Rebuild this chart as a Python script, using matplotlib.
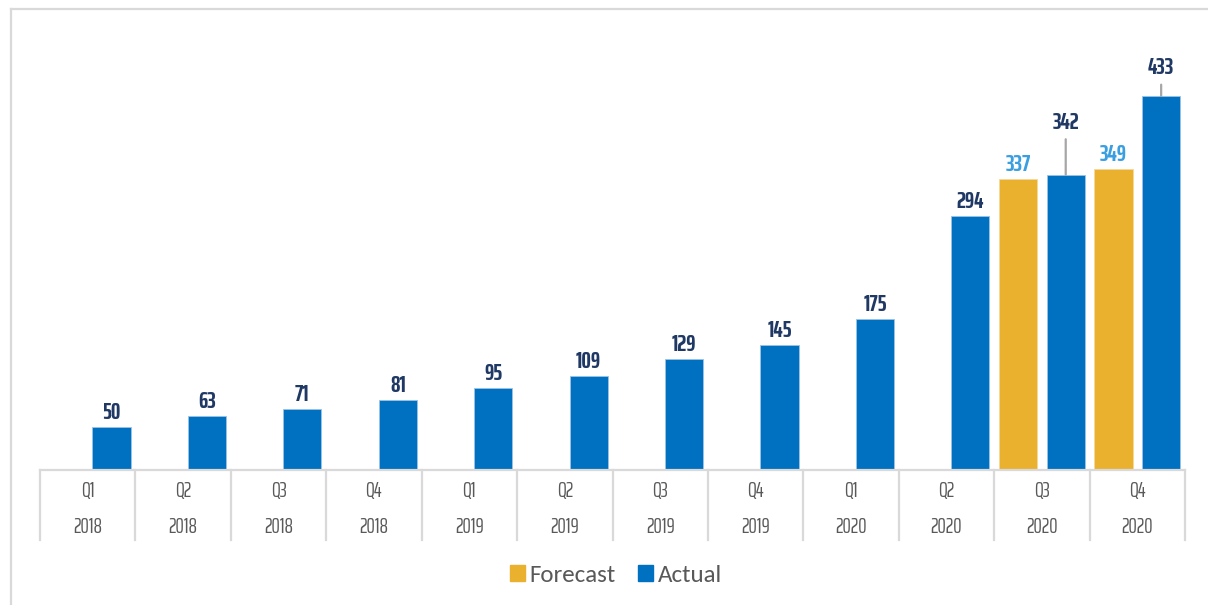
import matplotlib
matplotlib.use("Agg")
import matplotlib.pyplot as plt
from matplotlib.lines import Line2D
from matplotlib.patches import Patch
import numpy as np

quarters = ["Q1", "Q2", "Q3", "Q4", "Q1", "Q2", "Q3", "Q4", "Q1", "Q2", "Q3", "Q4"]
years = ["2018", "2018", "2018", "2018", "2019", "2019", "2019", "2019", "2020", "2020", "2020", "2020"]
actual = [50, 63, 71, 81, 95, 109, 129, 145, 175, 294, 342, 433]
forecast = [None, None, None, None, None, None, None, None, None, None, 337, 349]

BLUE = "#0070C0"
GOLD = "#EAB12E"
NAVY = "#1F3864"
LBLUE = "#3A9FE0"
GRID = "#D9D9D9"
TXT = "#595959"

COND = ["Saira Extra Condensed", "Saira ExtraCondensed", "Barlow Condensed", "Roboto Condensed",
        "IBM Plex Sans Condensed", "DejaVu Sans"]
CAL = ["Carlito", "Open Sans", "DejaVu Sans"]

fig = plt.figure(figsize=(12.08, 6.05), dpi=100)
W, H = 1208, 605
left, right, bottom, top = 40, 1185, 470, 40
ax = fig.add_axes([left / W, 1 - bottom / H, (right - left) / W, (bottom - top) / H])

x = np.arange(len(actual))
bw = 0.4
ax.bar(x + 0.25, actual, width=bw, color=BLUE, edgecolor="#9CC3E6", linewidth=0.6, zorder=2)
fx = [xi - 0.25 for xi, f in zip(x, forecast) if f is not None]
fv = [f for f in forecast if f is not None]
ax.bar(fx, fv, width=bw, color=GOLD, edgecolor="#F5D79A", linewidth=0.6, zorder=2)

ax.set_xlim(-0.5, len(actual) - 0.5)
ax.set_ylim(0, 498)
for s in ax.spines.values():
    s.set_visible(False)
ax.set_xticks([])
ax.set_yticks([])
ax.axhline(0, color=GRID, lw=1.6, zorder=3, clip_on=False)

lab_font = dict(family=COND, fontweight="bold", fontsize=17)
actual_off = [14] * len(actual)
actual_off[10] = 52
actual_off[11] = 28
for xi, v, off in zip(x, actual, actual_off):
    ax.annotate(str(v), xy=(xi + 0.25, v), xytext=(0, off), textcoords="offset pixels",
                ha="center", va="center", color=NAVY, **lab_font,
                arrowprops=dict(arrowstyle="-", color="#A6A6A6", lw=1.6, shrinkA=2, shrinkB=0) if off > 20 else None)
for xi, v in zip(fx, fv):
    ax.annotate(str(v), xy=(xi, v), xytext=(0, 14), textcoords="offset pixels",
                ha="center", va="center", color=LBLUE, **lab_font)

trans = ax.get_xaxis_transform()
ah = bottom - top
for b in np.arange(-0.5, len(actual), 1.0):
    ax.add_line(Line2D([b, b], [0, -70 / ah], transform=trans, color=GRID, lw=1.6, clip_on=False))
tick_font = dict(family=COND, fontsize=15, color=TXT)
for xi, q, y in zip(x, quarters, years):
    ax.text(xi, -21 / ah, q, transform=trans, ha="center", va="center", **tick_font)
    ax.text(xi, -57 / ah, y, transform=trans, ha="center", va="center", **tick_font)

fig.add_artist(Line2D([10.5 / W, 1], [1 - 8.5 / H, 1 - 8.5 / H], color=GRID, lw=1.6))
fig.add_artist(Line2D([10.5 / W, 10.5 / W], [0, 1 - 8.5 / H], color=GRID, lw=1.6))

handles = [Patch(color=GOLD, label="Forecast"), Patch(color=BLUE, label="Actual")]
fig.legend(handles=handles, loc="center", bbox_to_anchor=(616 / W, 1 - 575 / H), ncol=2, frameon=False,
           prop=dict(family=CAL, size=18), labelcolor=TXT, handlelength=0.6, handleheight=0.6,
           handletextpad=0.2, columnspacing=0.9)

fig.savefig("out.png", dpi=100)
